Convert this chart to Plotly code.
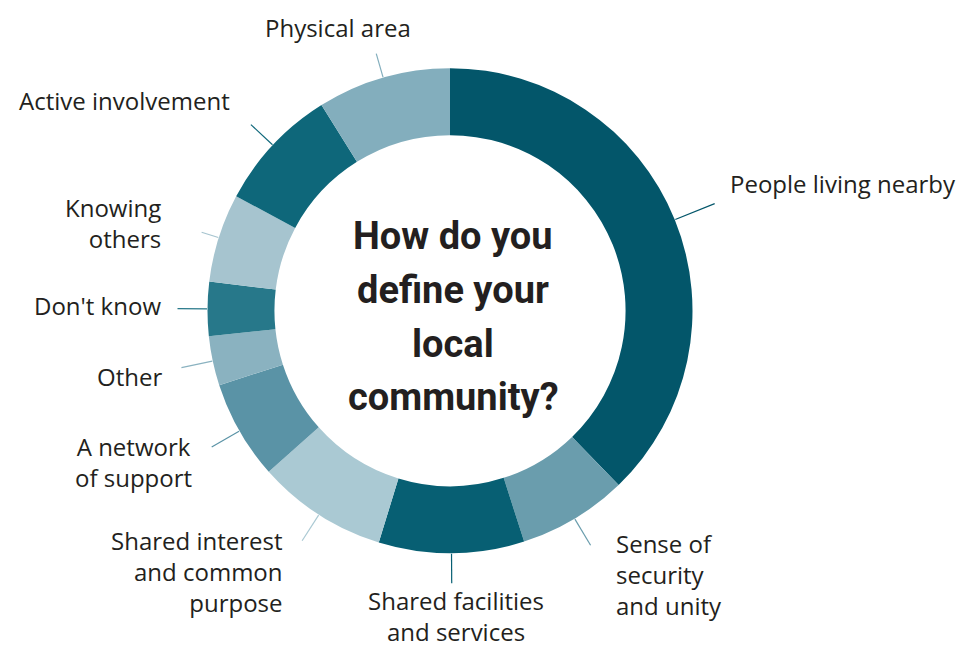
import math
import plotly.graph_objects as go

# Survey answers, clockwise from 12 o'clock
categories = [
    "People living nearby",
    "Sense of security and unity",
    "Shared facilities and services",
    "Shared interest and common purpose",
    "A network of support",
    "Other",
    "Don't know",
    "Knowing others",
    "Active involvement",
    "Physical area",
]
shares = [37.8, 7.3, 9.7, 8.7, 6.6, 3.3, 3.6, 5.9, 8.3, 8.9]
colors = [
    "#03566a", "#6a9dad", "#075f73", "#aac9d3", "#5a93a6",
    "#8ab2c0", "#27788a", "#a6c4cf", "#0e677a", "#83aebd",
]

# Wrapped label text for each category
label_text = [
    "People living nearby",
    "Sense of<br>security<br>and unity",
    "Shared facilities<br>and services",
    "Shared interest<br>and common<br>purpose",
    "A network<br>of support",
    "Other",
    "Don't know",
    "Knowing<br>others",
    "Active involvement",
    "Physical area",
]
# (x px, y px of block centre, anchor)
label_pos = [
    (728, 183, "left"),
    (614, 574, "left"),
    (456, 616, "center"),
    (285, 571, "right"),
    (133, 462, "center"),
    (164, 376, "right"),
    (163, 305, "right"),
    (163, 223, "right"),
    (125, 100, "center"),
    (338, 28, "center"),
]
leader_len = [43, 31, 30, 31, 32, 32, 30, 18, 30, 25]

title_lines = ["How do you", "define your", "local", "community?"]
title_y = [236, 290, 344, 397]

W, H = 970, 648
cx, cy, r_out = 450, 310.7, 242.5
hole = 0.724
ink = "#231f20"

fig = go.Figure(
    go.Pie(
        labels=categories,
        values=shares,
        marker=dict(colors=colors, line=dict(width=0)),
        hole=hole,
        sort=False,
        direction="clockwise",
        rotation=0,
        textinfo="none",
        hoverinfo="label+percent",
        showlegend=False,
        domain=dict(
            x=[(cx - r_out) / W, (cx + r_out) / W],
            y=[(H - cy - r_out) / H, (H - cy + r_out) / H],
        ),
    )
)

shapes = []
annotations = []
total = sum(shares)
acc = 0.0
for i, v in enumerate(shares):
    mid = (acc + v / 2) / total * 2 * math.pi
    acc += v
    r1, r2 = r_out + 0.5, r_out + leader_len[i]
    x1, y1 = cx + r1 * math.sin(mid), cy - r1 * math.cos(mid)
    x2, y2 = cx + r2 * math.sin(mid), cy - r2 * math.cos(mid)
    shapes.append(dict(
        type="line", xref="paper", yref="paper",
        x0=x1 / W, y0=1 - y1 / H, x1=x2 / W, y1=1 - y2 / H,
        line=dict(color=colors[i], width=1.2),
    ))
    lx, ly, xa = label_pos[i]
    annotations.append(dict(
        text=label_text[i], x=lx / W, y=1 - ly / H,
        xref="paper", yref="paper", xanchor=xa, yanchor="middle",
        align=xa, showarrow=False,
        font=dict(family="Open Sans", size=24, color=ink),
    ))

for line, ty in zip(title_lines, title_y):
    annotations.append(dict(
        text=line, x=453 / W, y=1 - ty / H, xref="paper", yref="paper",
        xanchor="center", yanchor="middle", showarrow=False,
        font=dict(family="Roboto", size=38, color=ink, weight="bold"),
    ))

fig.update_layout(
    width=W, height=H,
    margin=dict(l=0, r=0, t=0, b=0),
    paper_bgcolor="white", plot_bgcolor="white",
    shapes=shapes, annotations=annotations,
)

fig.write_html("out.html")
